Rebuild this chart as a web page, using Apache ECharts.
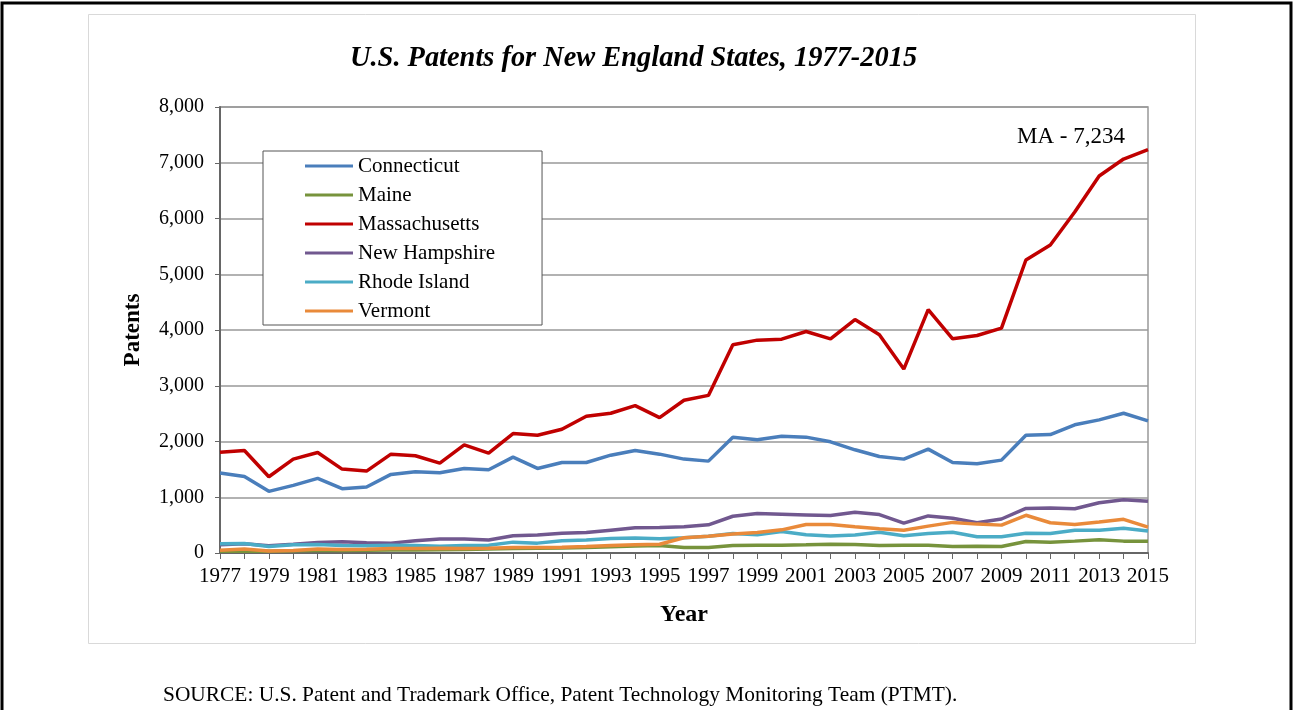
<!DOCTYPE html>
<html>
<head>
    <meta charset="utf-8">
    <title>U.S. Patents for New England States</title>
    <script src="https://cdn.jsdelivr.net/npm/echarts@6/dist/echarts.min.js"></script>
    <style>
        html, body { margin: 0; padding: 0; background: #fff; }
    </style>
</head>
<body>
    <div id="main" style="width: 1296px;height:710px;"></div>
    <script type="text/javascript">
        // 数据
        var years = [];
        for (var y = 1977; y <= 2015; y++) { years.push(String(y)); }

        var connecticut = [1434, 1374, 1106, 1213, 1338, 1153, 1183, 1410, 1457, 1440,
            1517, 1493, 1720, 1517, 1624, 1624, 1755, 1839, 1773, 1684,
            1648, 2078, 2030, 2096, 2078, 1994, 1851, 1731, 1684, 1863,
            1624, 1600, 1666, 2113, 2125, 2299, 2388, 2507, 2370];
        var maine = [30, 35, 30, 40, 45, 45, 50, 55, 55, 60,
            65, 70, 80, 85, 90, 100, 110, 125, 135, 100,
            98, 134, 140, 140, 146, 158, 152, 134, 140, 140,
            116, 122, 116, 207, 195, 213, 238, 213, 213];
        var massachusetts = [1809, 1839, 1368, 1684, 1803, 1505, 1469, 1773, 1744, 1612,
            1940, 1791, 2143, 2113, 2221, 2453, 2507, 2644, 2429, 2739,
            2827, 3734, 3818, 3836, 3973, 3842, 4188, 3913, 3299, 4367,
            3842, 3901, 4033, 5256, 5525, 6117, 6762, 7067, 7234];
        var newHampshire = [150, 165, 128, 158, 189, 201, 183, 177, 220, 250,
            250, 232, 311, 323, 354, 366, 409, 451, 457, 470,
            506, 659, 707, 695, 683, 671, 732, 689, 537, 665,
            622, 543, 610, 799, 805, 793, 902, 957, 927];
        var rhodeIsland = [165, 171, 116, 146, 152, 134, 128, 140, 134, 122,
            134, 140, 195, 177, 220, 232, 262, 268, 256, 274,
            299, 348, 329, 384, 329, 305, 323, 372, 311, 348,
            372, 293, 293, 354, 348, 409, 409, 445, 396];
        var vermont = [49, 73, 37, 43, 73, 61, 67, 79, 79, 85,
            79, 85, 98, 98, 104, 116, 134, 146, 158, 274,
            299, 341, 366, 415, 512, 512, 470, 433, 409, 482,
            549, 518, 500, 677, 543, 512, 555, 604, 463];

        var yTicks = [0, 1000, 2000, 3000, 4000, 5000, 6000, 7000, 8000];

        var seriesList = [
            { name: 'Connecticut', data: connecticut, color: '#4A7EBB' },
            { name: 'Maine', data: maine, color: '#77933C' },
            { name: 'Massachusetts', data: massachusetts, color: '#C00000' },
            { name: 'New Hampshire', data: newHampshire, color: '#71588F' },
            { name: 'Rhode Island', data: rhodeIsland, color: '#4BACC6' },
            { name: 'Vermont', data: vermont, color: '#E98A3A' }
        ];

        var serif = '"Liberation Serif", "Times New Roman", serif';

        var myChart = echarts.init(document.getElementById('main'));
        var option = {
            backgroundColor: '#fff',
            animation: false,
            textStyle: { fontFamily: serif, color: '#000' },
            title: {
                text: 'U.S. Patents for New England States, 1977-2015',
                left: 345,
                top: 40,
                textStyle: {
                    fontFamily: serif,
                    fontSize: 28.4,
                    fontWeight: 'bold',
                    fontStyle: 'italic',
                    color: '#000'
                }
            },
            legend: {
                orient: 'vertical',
                left: 263,
                top: 151,
                padding: [4, 47, 3, 42],
                itemGap: 7,
                itemWidth: 48,
                itemHeight: 3,
                icon: 'rect',
                borderColor: '#555',
                borderWidth: 1,
                backgroundColor: '#fff',
                textStyle: { fontFamily: serif, fontSize: 21, color: '#000', lineHeight: 22, padding: [0, 0, 0, 0] },
                data: seriesList.map(function (s) { return s.name; })
            },
            grid: {
                left: 220,
                right: 148,
                top: 107,
                bottom: 157,
                containLabel: false,
                outerBoundsMode: 'none',
                show: true,
                borderColor: '#999',
                borderWidth: 1.5
            },
            xAxis: {
                type: 'category',
                data: years,
                boundaryGap: false,
                name: 'Year',
                nameLocation: 'middle',
                nameGap: 50,
                nameTextStyle: { fontFamily: serif, fontSize: 24, fontWeight: 'bold', color: '#000' },
                axisLine: { lineStyle: { color: '#666', width: 2 } },
                axisTick: { show: true, interval: 0, length: 6, inside: false, lineStyle: { color: '#666' } },
                axisLabel: { interval: 1, fontFamily: serif, fontSize: 21, color: '#000', margin: 13 },
                splitLine: { show: false }
            },
            yAxis: {
                type: 'value',
                min: yTicks[0],
                max: yTicks[yTicks.length - 1],
                interval: 1000,
                name: 'Patents',
                nameLocation: 'middle',
                nameRotate: 90,
                nameGap: 75,
                nameTextStyle: { fontFamily: serif, fontSize: 23, fontWeight: 'bold', color: '#000' },
                axisLine: { show: true, lineStyle: { color: '#666', width: 2 } },
                axisTick: { show: true, length: 5, lineStyle: { color: '#666' } },
                axisLabel: {
                    fontFamily: serif, fontSize: 20, color: '#000', margin: 16,
                    formatter: function (v) { return v.toLocaleString('en-US'); }
                },
                splitLine: { show: true, lineStyle: { color: '#999', width: 1.5 } }
            },
            graphic: [
                // 外框
                { type: 'rect', shape: { x: 2, y: 3, width: 1289, height: 720 },
                  style: { fill: 'none', stroke: '#000', lineWidth: 3 }, silent: true },
                // 图表区
                { type: 'rect', shape: { x: 88.5, y: 14.5, width: 1107, height: 629 },
                  style: { fill: 'none', stroke: '#d9d9d9', lineWidth: 1 }, silent: true },
                { type: 'text', left: 1017, top: 125,
                  style: { text: 'MA - 7,234', font: '23px ' + serif, fill: '#000' } },
                { type: 'text', left: 163, top: 685,
                  style: { text: 'SOURCE: U.S. Patent and Trademark Office, Patent Technology Monitoring Team (PTMT).',
                           font: '21.4px ' + serif, fill: '#000' } }
            ],
            series: seriesList.map(function (s) {
                return {
                    name: s.name,
                    type: 'line',
                    data: s.data,
                    symbol: 'none',
                    color: s.color,
                    lineStyle: { width: 3.5, color: s.color }
                };
            })
        };
        myChart.setOption(option);
    </script>
</body>
</html>
